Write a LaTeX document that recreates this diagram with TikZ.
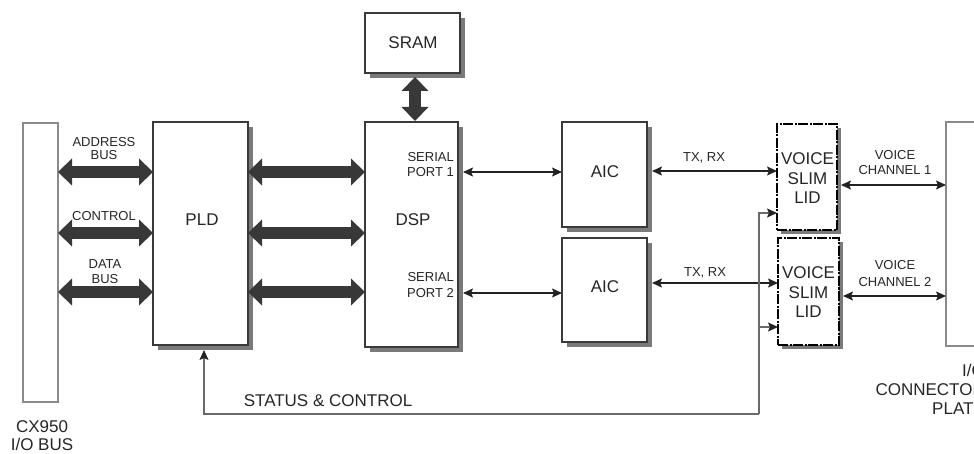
\documentclass[tikz,border=0pt]{standalone}
\usepackage{fontspec}
\setmainfont{Liberation Sans}
\usetikzlibrary{arrows.meta,shadows}
\definecolor{boxline}{HTML}{3A3A3A}
\definecolor{shade}{HTML}{7A7A7A}
\definecolor{fatc}{HTML}{383838}
\definecolor{thinc}{HTML}{222222}
\definecolor{txt}{HTML}{262626}
\definecolor{lightline}{HTML}{8A8A8A}
\definecolor{sline}{HTML}{6A6A6A}
\tikzset{
  bigtext/.style={font=\fontsize{17pt}{19.5pt}\selectfont, text=txt, inner sep=0pt, align=center},
  smalltext/.style={font=\fontsize{13pt}{14.5pt}\selectfont, text=txt, inner sep=0pt, align=center},
  blk/.style={draw=boxline, line width=1.2pt, fill=white, inner sep=0pt, outer sep=0pt,
    drop shadow={shadow xshift=5pt, shadow yshift=-5pt, fill=shade, opacity=1}},
  vslbox/.style={draw=black, line width=1.4pt, fill=white, inner sep=0pt, outer sep=0pt,
    dash pattern={on 10pt off 1.5pt on 2pt off 1.5pt},
    drop shadow={shadow xshift=4pt, shadow yshift=-4pt, fill=shade, opacity=1}},
  plainbox/.style={draw=lightline, line width=1.2pt, fill=white, inner sep=0pt, outer sep=0pt},
  fat/.style={draw=fatc, line width=12pt,
    {Triangle[width=27pt,length=14pt,line width=0pt]}-{Triangle[width=27pt,length=14pt,line width=0pt]}},
  thinarrow/.style={draw=thinc, line width=1.3pt,
    {Stealth[length=10pt,width=9pt,inset=2pt]}-{Stealth[length=10pt,width=9pt,inset=2pt]}},
  statusline/.style={draw=sline, line width=1.3pt},
  statustip/.style={-{Stealth[length=10pt,width=9pt,inset=2pt,color=thinc]}}
}
\begin{document}
\begin{tikzpicture}[x=1pt,y=-1pt]
\useasboundingbox (0,0) rectangle (974,454);
\begin{scope}
\clip (0,0) rectangle (974,454);

% ---- boxes ----
\node[plainbox, minimum width=35pt, minimum height=279pt] (bus) at (40.5,262.5) {};
\node[blk, minimum width=95pt, minimum height=223pt] (pld) at (200.5,233.5) {};
\node[blk, minimum width=95pt, minimum height=60pt] (sram) at (412.5,43) {};
\node[blk, minimum width=93pt, minimum height=225pt] (dsp) at (411.5,234.5) {};
\node[blk, minimum width=85pt, minimum height=105pt] (aic1) at (604.5,174.5) {};
\node[blk, minimum width=85pt, minimum height=104pt] (aic2) at (604.5,290) {};
\node[vslbox, minimum width=60pt, minimum height=106pt] (vsl1) at (807,177) {};
\node[vslbox, minimum width=61pt, minimum height=107pt] (vsl2) at (808.5,291.5) {};
\node[plainbox, minimum width=50pt, minimum height=224pt] (plate) at (971,234) {};

% ---- reference heights ----
\coordinate (yA) at (0,172);
\coordinate (yC) at (0,233);
\coordinate (yD) at (0,292);
\coordinate (yS1) at (0,172);
\coordinate (yS2) at (0,293);
\coordinate (yT1) at (0,171);
\coordinate (yT2) at (0,283);
\coordinate (yV1) at (0,185);
\coordinate (yV2) at (0,296);
\coordinate (yst2) at (0,327);

% ---- fat bus arrows ----
\draw[fat] (bus.east |- yA) -- (pld.west |- yA);
\draw[fat] (bus.east |- yC) -- (pld.west |- yC);
\draw[fat] (bus.east |- yD) -- (pld.west |- yD);
\draw[fat] (pld.east |- yA) -- (dsp.west |- yA);
\draw[fat] (pld.east |- yC) -- (dsp.west |- yC);
\draw[fat] (pld.east |- yD) -- (dsp.west |- yD);
\draw[fat] ([xshift=2.5pt,yshift=-4pt]sram.south) -- ([xshift=3.5pt,yshift=1pt]dsp.north);

% ---- thin arrows ----
\draw[thinarrow] ([xshift=5pt]dsp.east |- yS1) -- (aic1.west |- yS1);
\draw[thinarrow] ([xshift=5pt]dsp.east |- yS2) -- (aic2.west |- yS2);
\draw[thinarrow] ([xshift=5pt]aic1.east |- yT1) -- (vsl1.west |- yT1);
\draw[thinarrow] ([xshift=5pt]aic2.east |- yT2) -- (vsl2.west |- yT2);
\draw[thinarrow] ([xshift=4pt]vsl1.east |- yV1) -- (plate.west |- yV1);
\draw[thinarrow] ([xshift=4pt]vsl2.east |- yV2) -- (plate.west |- yV2);

% ---- status & control ----
\coordinate (sctop) at (759,213);
\coordinate (scbot) at (759,414);
\coordinate (scleft) at (204,414);
\coordinate (sctip) at (204,350);
\draw[statusline, statustip] (scbot) -- (scleft) -- (sctip);
\draw[statusline, statustip] (scbot) -- (sctop) -- (vsl1.west |- sctop);
\draw[statusline, statustip] (scbot |- yst2) -- (vsl2.west |- yst2);

% ---- labels ----
\node[smalltext, font=\fontsize{13pt}{13pt}\selectfont] (laddr) at (104,148.5) {ADDRESS\\BUS};
\node[smalltext] (lctrl) at (104,216) {CONTROL};
\node[smalltext, font=\fontsize{13pt}{15pt}\selectfont] (ldata) at (105,271.5) {DATA\\BUS};
\node[bigtext] (lpld) at (202,220) {PLD};
\node[bigtext] (lsram) at (413,43) {SRAM};
\node[bigtext] (ldsp) at (413,220) {DSP};
\node[smalltext, align=right, anchor=east, font=\fontsize{13pt}{15.5pt}\selectfont] (lsp1) at (454,164.5) {SERIAL\\PORT 1};
\node[smalltext, align=right, anchor=east, font=\fontsize{13pt}{15.5pt}\selectfont] (lsp2) at (454,285) {SERIAL\\PORT 2};
\node[bigtext] (laic1) at (605,172) {AIC};
\node[bigtext] (laic2) at (605,287) {AIC};
\node[smalltext] (ltx1) at (704,158) {TX, RX};
\node[smalltext] (ltx2) at (705,273) {TX, RX};
\node[bigtext] (lvsl1) at (807.5,178.5) {VOICE\\SLIM\\LID};
\node[bigtext] (lvsl2) at (808.5,292.5) {VOICE\\SLIM\\LID};
\node[smalltext, font=\fontsize{13pt}{15.5pt}\selectfont] (lvc1) at (895,162.5) {VOICE\\CHANNEL 1};
\node[smalltext, font=\fontsize{13pt}{16.5pt}\selectfont] (lvc2) at (895,273.5) {VOICE\\CHANNEL 2};
\node[bigtext] (lstat) at (328,401) {STATUS \& CONTROL};
\node[bigtext, font=\fontsize{17pt}{18pt}\selectfont] (lbus) at (42,436) {CX950\\I/O BUS};
\node[bigtext, align=right, anchor=east, font=\fontsize{17pt}{19pt}\selectfont] (lplate) at (985,389) {I/O\\CONNECTOR\\PLATE};
\end{scope}
\end{tikzpicture}
\end{document}
